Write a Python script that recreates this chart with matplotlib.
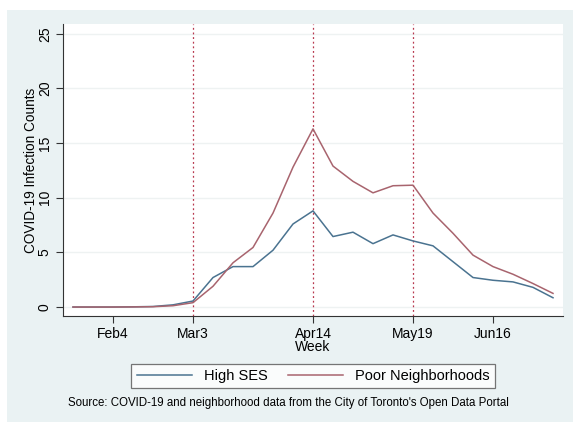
import matplotlib
matplotlib.use('Agg')
import matplotlib.pyplot as plt
import numpy as np
import pandas as pd

plt.rcParams['font.family'] = ['Liberation Sans', 'DejaVu Sans']

# --- Data (weekly counts) ---
weeks = pd.date_range('2020-01-21', periods=25, freq='7D')
high_ses = [0, 0, 0, 0.02, 0.05, 0.2, 0.55, 2.7, 3.7, 3.7, 5.2, 7.6, 8.8,
            6.45, 6.85, 5.8, 6.6, 6.05, 5.6, 4.15, 2.7, 2.45, 2.3, 1.8, 0.85]
poor_nbhd = [0, 0, 0, 0.01, 0.03, 0.12, 0.4, 1.9, 4.05, 5.45, 8.6, 12.8, 16.3,
             12.9, 11.5, 10.45, 11.1, 11.15, 8.6, 6.75, 4.75, 3.7, 3.0, 2.15, 1.25]
tick_weeks = ['2020-02-04', '2020-03-03', '2020-04-14', '2020-05-19', '2020-06-16']
tick_labels = ['Feb4', 'Mar3', 'Apr14', 'May19', 'Jun16']
event_weeks = ['2020-03-03', '2020-04-14', '2020-05-19']

# week index on the x-axis
x = np.arange(len(weeks))
week_pos = {d: i for i, d in enumerate(weeks.strftime('%Y-%m-%d'))}

# --- Figure ---
fig = plt.figure(figsize=(5.73, 4.22), dpi=100, facecolor='white')
bg = plt.Rectangle((7 / 573, 0), 1 - 7 / 573, (422 - 10) / 422,
                   transform=fig.transFigure, facecolor='#eaf2f3', edgecolor='none', zorder=-10)
fig.add_artist(bg)

ax = fig.add_axes([63 / 573, (422 - 316) / 422, 500 / 573, (316 - 24) / 422])
ax.set_facecolor('white')

# reference lines
for d in event_weeks:
    ax.axvline(week_pos[d], color='#b8384f', linewidth=0.9, linestyle=(0, (1.5, 2.2)), zorder=2)

ax.plot(x, high_ses, color='#4a7390', linewidth=1.1, label='High SES', zorder=3)
ax.plot(x, poor_nbhd, color='#a8646e', linewidth=1.1, label='Poor Neighborhoods', zorder=3)

ax.set_xlim(-0.5, len(weeks) - 0.5)
ax.set_ylim(-0.82, 25.9)

ax.set_yticks([0, 5, 10, 15, 20, 25])
ax.set_yticklabels(['0', '5', '10', '15', '20', '25'], rotation=90, va='center', fontsize=10)
ax.set_xticks([week_pos[d] for d in tick_weeks])
ax.set_xticklabels(tick_labels, fontsize=10)
ax.tick_params(axis='both', length=5, width=0.8, color='#333333', pad=3)
ax.grid(axis='y', color='#eef2f2', linewidth=1.0)
ax.set_axisbelow(True)

for s in ['top', 'right']:
    ax.spines[s].set_visible(False)
for s in ['left', 'bottom']:
    ax.spines[s].set_color('#333333')
    ax.spines[s].set_linewidth(0.8)

ax.yaxis.set_label_coords(-(63 - 31) / 500, 0.5)
ax.set_ylabel('COVID-19 Infection Counts', fontsize=9.8, va='center')
ax.set_xlabel('Week', fontsize=10, labelpad=-1)

# legend below the plot
leg = fig.legend(loc='center', bbox_to_anchor=(313 / 573, (422 - 376) / 422), ncol=2,
                 fontsize=10.5, frameon=True, fancybox=False, edgecolor='#555555',
                 handlelength=3.8, columnspacing=1.4, borderpad=0.35)
leg.get_frame().set_linewidth(0.9)

fig.text(288 / 573, (422 - 403) / 422,
         "Source: COVID-19 and neighborhood data from the City of Toronto's Open Data Portal",
         ha='center', va='center', fontsize=8.3)

fig.savefig('out.png', dpi=100, facecolor=fig.get_facecolor())
